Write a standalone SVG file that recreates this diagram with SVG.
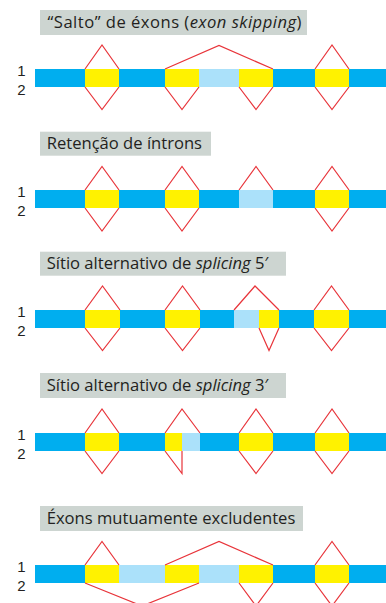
<svg xmlns="http://www.w3.org/2000/svg" width="386" height="603" viewBox="0 0 386 603">
<style>
.bg{fill:#ffffff}
.box{fill:#cdd5d1}
.title{font-family:"Open Sans","Liberation Sans",sans-serif;font-size:16.6px;fill:#231f20}
.num{font-family:"Liberation Sans","Open Sans",sans-serif;font-size:15px;fill:#231f20;text-anchor:middle}
.b{fill:#00aeef}
.y{fill:#fff200}
.l{fill:#abe1fa}
.c{fill:none;stroke:#e8343a;stroke-width:1.2;stroke-linejoin:miter}
</style>
<rect class="bg" x="0" y="0" width="386" height="603"/>

<g id="panel1">
<rect class="box" x="40" y="10" width="267" height="25"/>
<text class="title" x="47.5" y="28.3" textLength="254">“Salto” de éxons (<tspan font-style="italic">exon skipping</tspan>)</text>
<text class="num" x="21.5" y="76">1</text>
<text class="num" x="21.5" y="95">2</text>
<rect class="b" x="35" y="69" width="351" height="18"/>
<rect class="y" x="85" y="69" width="34" height="18"/>
<rect class="y" x="165" y="69" width="34" height="18"/>
<rect class="l" x="199" y="69" width="40" height="18"/>
<rect class="y" x="239" y="69" width="34" height="18"/>
<rect class="y" x="315" y="69" width="34" height="18"/>
</g>

<g id="panel2">
<rect class="box" x="40" y="131.7" width="171" height="24"/>
<text class="title" x="46.7" y="149.3">Retenção de íntrons</text>
<text class="num" x="21.5" y="197">1</text>
<text class="num" x="21.5" y="216">2</text>
<rect class="b" x="35" y="190" width="351" height="18"/>
<rect class="y" x="85" y="190" width="34" height="18"/>
<rect class="y" x="165" y="190" width="34" height="18"/>
<rect class="l" x="239" y="190" width="34" height="18"/>
<rect class="y" x="315" y="190" width="34" height="18"/>
</g>

<g id="panel3">
<rect class="box" x="40" y="251.7" width="246" height="24"/>
<text class="title" x="46.7" y="269.3">Sítio alternativo de <tspan font-style="italic">splicing</tspan> 5′</text>
<text class="num" x="21.5" y="317">1</text>
<text class="num" x="21.5" y="336">2</text>
<rect class="b" x="35" y="310" width="351" height="18"/>
<rect class="y" x="85" y="310" width="35" height="18"/>
<rect class="y" x="165" y="310" width="35" height="18"/>
<rect class="l" x="234" y="310" width="25" height="18"/>
<rect class="y" x="259" y="310" width="20" height="18"/>
<rect class="y" x="314" y="310" width="35" height="18"/>
</g>

<g id="panel4">
<rect class="box" x="40" y="373" width="246" height="25"/>
<text class="title" x="46.7" y="391.3">Sítio alternativo de <tspan font-style="italic">splicing</tspan> 3′</text>
<text class="num" x="21.5" y="440">1</text>
<text class="num" x="21.5" y="459">2</text>
<rect class="b" x="35" y="433" width="351" height="18"/>
<rect class="y" x="85" y="433" width="34" height="18"/>
<rect class="y" x="165" y="433" width="17" height="18"/>
<rect class="l" x="182" y="433" width="18" height="18"/>
<rect class="y" x="239" y="433" width="34" height="18"/>
<rect class="y" x="315" y="433" width="34" height="18"/>
</g>

<g id="panel5">
<rect class="box" x="40" y="506" width="263" height="25"/>
<text class="title" x="46.7" y="524.3">Éxons mutuamente excludentes</text>
<text class="num" x="21.5" y="572">1</text>
<text class="num" x="21.5" y="591">2</text>
<rect class="b" x="35" y="565" width="351" height="18"/>
<rect class="y" x="85" y="565" width="34" height="18"/>
<rect class="l" x="119" y="565" width="46" height="18"/>
<rect class="y" x="165" y="565" width="34" height="18"/>
<rect class="l" x="199" y="565" width="40" height="18"/>
<rect class="y" x="239" y="565" width="34" height="18"/>
<rect class="y" x="315" y="565" width="34" height="18"/>
</g>

<g id="connectors">
<!-- panel 1 -->
<polyline class="c" points="85,69 102,45 119,69"/>
<polyline class="c" points="85,87 102,109.5 119,87"/>
<polyline class="c" points="165,69 219,45.5 273,69"/>
<polyline class="c" points="165,87 182,109.5 199,87"/>
<polyline class="c" points="239,87 256,109.5 273,87"/>
<polyline class="c" points="315,69 332,45 349,69"/>
<polyline class="c" points="315,87 332,109.5 349,87"/>
<!-- panel 2 -->
<polyline class="c" points="85,190 102,166.5 119,190"/>
<polyline class="c" points="85,208 102,231 119,208"/>
<polyline class="c" points="165,190 182,166.5 199,190"/>
<polyline class="c" points="165,208 182,231 199,208"/>
<polyline class="c" points="239,190 256,166.5 273,190"/>
<polyline class="c" points="315,190 332,166.5 349,190"/>
<polyline class="c" points="315,208 332,231 349,208"/>
<!-- panel 3 -->
<polyline class="c" points="85,310 102.5,286 120,310"/>
<polyline class="c" points="85,328 102.5,350.5 120,328"/>
<polyline class="c" points="165,310 182.5,286 200,310"/>
<polyline class="c" points="165,328 182.5,350.5 200,328"/>
<polyline class="c" points="234,310 255,286 279,310"/>
<polyline class="c" points="259,328 269,350.5 279,328"/>
<polyline class="c" points="314,310 331.5,286 349,310"/>
<polyline class="c" points="314,328 331.5,350.5 349,328"/>
<!-- panel 4 -->
<polyline class="c" points="85,433 102,409 119,433"/>
<polyline class="c" points="85,451 102,473.5 119,451"/>
<polyline class="c" points="165,433 182,409 200,433"/>
<polyline class="c" points="165,451 182,473.5 182,451"/>
<polyline class="c" points="239,433 256,409 273,433"/>
<polyline class="c" points="239,451 256,473.5 273,451"/>
<polyline class="c" points="315,433 332,409 349,433"/>
<polyline class="c" points="315,451 332,473.5 349,451"/>
<!-- panel 5 -->
<polyline class="c" points="85,565 102,541.5 119,565"/>
<polyline class="c" points="85,583 142,606 199,583"/>
<polyline class="c" points="165,565 219,541.5 273,565"/>
<polyline class="c" points="239,583 256,606 273,583"/>
<polyline class="c" points="315,565 332,541.5 349,565"/>
<polyline class="c" points="315,583 332,606 349,583"/>
</g>
</svg>
